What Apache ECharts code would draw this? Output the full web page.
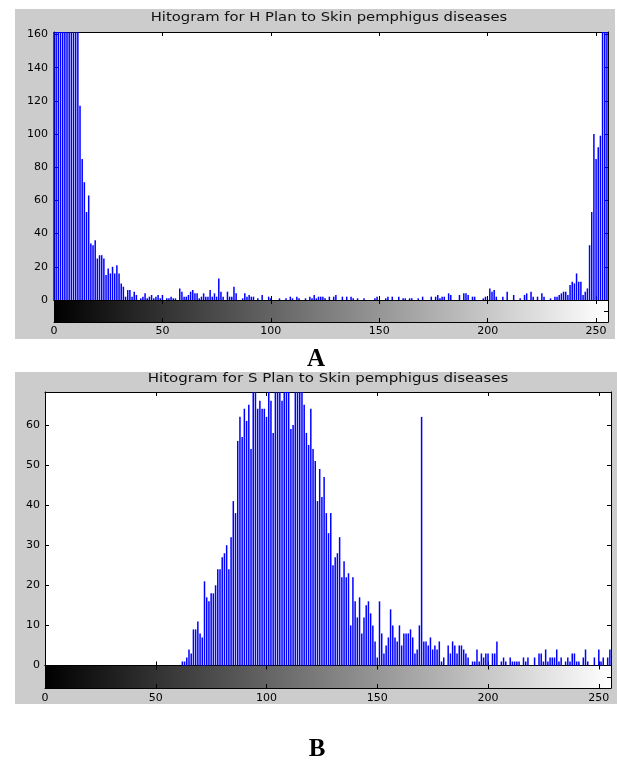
<!DOCTYPE html>
<html>
<head>
<meta charset="utf-8">
<script src="https://cdn.jsdelivr.net/npm/echarts@6/dist/echarts.min.js"></script>
<style>
html,body{margin:0;padding:0;background:#fff;}
#c{width:617px;height:760px;}
</style>
</head>
<body>
<div id="c"></div>
<script>
// ---- data ----
const binIndex = [];
for (let i = 0; i < 256; i++) binIndex.push(i);

const hCounts = [
  410, 520, 610, 480, 390, 350, 300, 270, 240, 210, 190, 175,
  117, 85, 71, 53, 63, 34, 33, 36,
  25, 27, 27, 25, 15, 19, 16, 20, 16, 21,
  16, 10, 8, 2, 6, 6, 2, 5, 3, 0,
  1, 2, 4, 1, 2, 3, 1, 2, 3, 1,
  3, 0, 1, 1, 2, 1, 1, 0, 7, 5,
  2, 2, 3, 5, 6, 4, 4, 1, 2, 4,
  2, 2, 6, 2, 4, 2, 13, 5, 2, 0,
  5, 2, 2, 8, 4, 0, 0, 1, 4, 2,
  3, 2, 2, 0, 1, 0, 3, 0, 0, 2,
  1, 0, 0, 0, 1, 0, 0, 1, 0, 2,
  1, 0, 2, 1, 0, 0, 1, 0, 2, 1,
  3, 1, 2, 2, 2, 1, 0, 2, 0, 2,
  3, 0, 0, 2, 0, 2, 0, 2, 1, 0,
  1, 0, 0, 1, 0, 0, 0, 0, 1, 2,
  0, 0, 0, 1, 2, 0, 2, 0, 0, 2,
  0, 1, 1, 0, 1, 1, 0, 0, 1, 0,
  2, 0, 0, 0, 2, 0, 2, 3, 1, 2,
  2, 0, 4, 3, 0, 0, 0, 3, 0, 4,
  4, 3, 0, 2, 2, 0, 0, 0, 1, 2,
  0, 7, 5, 6, 2, 0, 0, 2, 0, 5,
  0, 0, 3, 0, 0, 1, 0, 3, 4, 0,
  5, 2, 0, 2, 0, 4, 2, 0, 0, 1,
  0, 2, 2, 3, 4, 5, 5, 3, 9, 11,
  10, 16, 11, 11, 3, 5, 7, 33, 53, 100,
  85, 92, 99, 260, 420, 640
];

const sCounts = [
  0, 0, 0, 0, 0, 0, 0, 0, 0, 0,
  0, 0, 0, 0, 0, 0, 0, 0, 0, 0,
  0, 0, 0, 0, 0, 0, 0, 0, 0, 0,
  0, 0, 0, 0, 0, 0, 0, 0, 0, 0,
  0, 0, 0, 0, 0, 0, 0, 0, 0, 0,
  0, 0, 0, 0, 0, 0, 0, 0, 0, 0,
  0, 0,
  1, 1, 2, 4, 3, 9, 9, 11,
  8, 7, 21, 17, 16, 18, 18, 20, 24, 24,
  27, 28, 30, 24, 32, 41, 38, 56, 62, 57,
  64, 61, 65, 54, 72, 70, 64, 66, 64, 64,
  62, 69, 66, 58, 75, 78, 73, 66, 71, 77,
  74, 59, 60, 76, 79, 72, 70, 65, 58, 55,
  64, 54, 51, 41, 49, 42, 47, 38, 33, 38,
  25, 27, 28, 32, 22, 26, 22, 23, 10, 22,
  16, 12, 17, 8, 12, 15, 16, 13, 10, 6,
  2, 16, 8, 3, 5, 7, 14, 10, 7, 6,
  10, 5, 8, 8, 8, 9, 7, 3, 4, 10,
  62, 6, 6, 5, 7, 4, 5, 4, 6, 1,
  2, 0, 5, 3, 6, 5, 3, 5, 5, 4,
  3, 2, 0, 1, 1, 4, 1, 3, 2, 3,
  3, 0, 3, 3, 6, 0, 1, 2, 1, 0,
  2, 1, 1, 1, 1, 0, 2, 1, 2, 0,
  0, 2, 0, 3, 3, 1, 4, 1, 2, 2,
  2, 4, 1, 2, 0, 1, 2, 1, 3, 3,
  1, 1, 0, 2, 4, 1, 0, 0, 2, 0,
  4, 1, 2, 0, 2, 4
];

const xTickValues = [0, 50, 100, 150, 200, 250];
const hYTickValues = [0, 20, 40, 60, 80, 100, 120, 140, 160];
const sYTickValues = [0, 10, 20, 30, 40, 50, 60];
const colorbarTick = [0.5];
const titles = ['Hitogram for H Plan to Skin pemphigus diseases', 'Hitogram for S Plan to Skin pemphigus diseases'];
const panelLabels = ['A', 'B'];

// ---- layout ----
const panels = [
  { main: {left: 54, top: 32, width: 554, height: 268}, bar: {left: 54, top: 300, width: 554, height: 22},
    ymax: 161.5, yTicks: hYTickValues, data: hCounts, yMargin: 6, xMargin: 4,
    bg: {x: 15, y: 9, width: 600, height: 330}, titleX: 329, titleY: 18, titleScale: 1.23,
    labelX: 316, labelY: 360 },
  { main: {left: 45, top: 392, width: 566, height: 273.5}, bar: {left: 45, top: 665.5, width: 566, height: 22.5},
    ymax: 68.2, yTicks: sYTickValues, data: sCounts, yMargin: 5, xMargin: 4.5,
    bg: {x: 15, y: 372, width: 602, height: 332}, titleX: 328, titleY: 378.5, titleScale: 1.25,
    labelX: 317, labelY: 750 }
];

const FONT = '"DejaVu Sans", "Liberation Sans", sans-serif';
const black = '#000';
const grad = {type: 'linear', x: 0, y: 0, x2: 1, y2: 0,
  colorStops: [{offset: 0, color: '#000000'}, {offset: 1, color: '#ffffff'}]};

const grids = [], xAxes = [], yAxes = [], series = [], graphics = [];

function xAx(gridIndex, position, labels, margin) {
  return {
    type: 'value', gridIndex, position, min: 0, max: 255.5,
    axisLine: {show: true, onZero: false, lineStyle: {color: black, width: 1}},
    axisTick: {show: true, inside: true, length: 4, customValues: xTickValues, lineStyle: {color: black, width: 1}},
    axisLabel: labels ? {show: true, customValues: xTickValues, margin: margin, color: '#000', fontSize: 11, fontFamily: FONT} : {show: false},
    splitLine: {show: false}
  };
}
function yAx(gridIndex, position, max, ticks, labels, margin) {
  return {
    type: 'value', gridIndex, position, min: 0, max: max,
    axisLine: {show: true, onZero: false, lineStyle: {color: black, width: 1}},
    axisTick: {show: true, inside: true, length: 4, customValues: ticks, lineStyle: {color: black, width: 1}},
    axisLabel: labels ? {show: true, customValues: ticks, margin: margin, color: '#000', fontSize: 11, fontFamily: FONT} : {show: false},
    splitLine: {show: false}
  };
}

panels.forEach((p, k) => {
  const gMain = 2 * k, gBar = 2 * k + 1;
  grids.push(Object.assign({show: true, backgroundColor: '#ffffff', borderWidth: 0, containLabel: false}, p.main));
  grids.push(Object.assign({show: true, backgroundColor: grad, borderWidth: 0, containLabel: false}, p.bar));
  const xi = xAxes.length, yi = yAxes.length;
  xAxes.push(xAx(gMain, 'bottom', false));
  xAxes.push(xAx(gMain, 'top', false));
  xAxes.push(xAx(gBar, 'bottom', true, p.xMargin));
  xAxes.push(xAx(gBar, 'top', false));
  yAxes.push(yAx(gMain, 'left', p.ymax, p.yTicks, true, p.yMargin));
  yAxes.push(yAx(gMain, 'right', p.ymax, p.yTicks, false));
  yAxes.push(yAx(gBar, 'left', 1, colorbarTick, false));
  yAxes.push(yAx(gBar, 'right', 1, colorbarTick, false));
  series.push({
    type: 'bar', xAxisIndex: xi, yAxisIndex: yi,
    data: binIndex.map((b, i) => [b, p.data[i]]),
    barWidth: 1.5, clip: true, silent: true,
    itemStyle: {color: '#0000ff'}
  });
  graphics.push({type: 'rect', z: -5, shape: p.bg, style: {fill: '#cccccc'}, silent: true});
  graphics.push({type: 'text', z: 10, x: p.titleX, y: p.titleY, scaleX: p.titleScale,
    style: {text: titles[k], font: '12px ' + FONT, fill: '#111',
      align: 'center', verticalAlign: 'middle', textAlign: 'center', textVerticalAlign: 'middle'}, silent: true});
  graphics.push({type: 'text', z: 10, x: p.labelX, y: p.labelY,
    style: {text: panelLabels[k], font: 'bold 25px "Liberation Serif", "Times New Roman", serif', fill: '#000',
      align: 'center', verticalAlign: 'middle', textAlign: 'center', textVerticalAlign: 'middle'}, silent: true});
});

const chart = echarts.init(document.getElementById('c'), null, {renderer: 'canvas', width: 617, height: 760});
chart.setOption({
  animation: false,
  backgroundColor: '#ffffff',
  grid: grids,
  xAxis: xAxes,
  yAxis: yAxes,
  series: series,
  graphic: graphics
});
</script>
</body>
</html>
